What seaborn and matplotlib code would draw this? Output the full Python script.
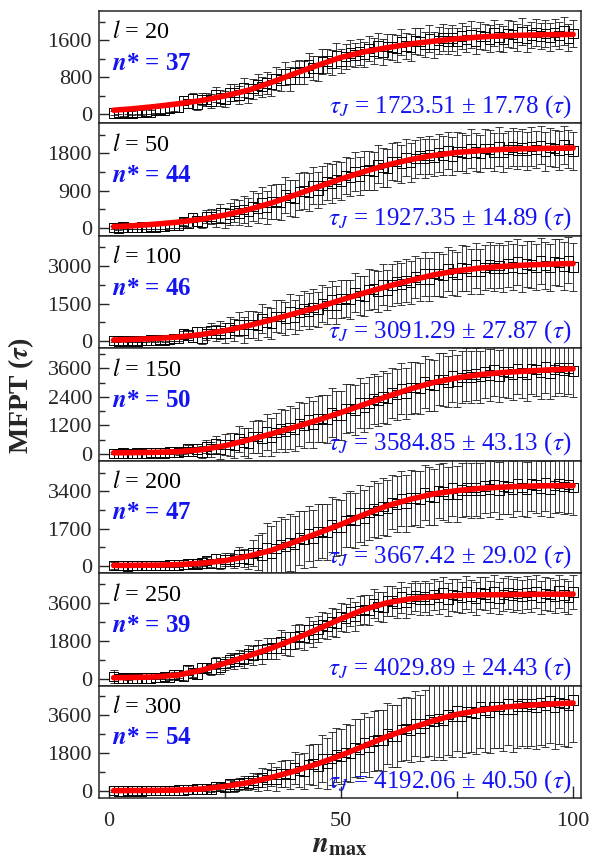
import numpy as np
import pandas as pd
import seaborn as sns
import matplotlib.pyplot as plt
from matplotlib.ticker import MultipleLocator

sns.set_theme(style='ticks')
plt.rcParams['font.family'] = ['Liberation Serif', 'DejaVu Serif']
plt.rcParams['mathtext.fontset'] = 'stix'

# chain lengths and fit results shown in each panel
lengths = [20, 50, 100, 150, 200, 250, 300]
n_star = [37, 44, 46, 50, 47, 39, 54]
tau_j = ['1723.51', '1927.35', '3091.29', '3584.85', '3667.42', '4029.89', '4192.06']
tau_err = ['17.78', '14.89', '27.87', '43.13', '29.02', '24.43', '40.50']

# n_max grid of the simulation points
n_max = np.arange(1, 101)

# MFPT means read from the squares
mfpt_20 = [30, 45, 20, 40, 30, 55, 40, 65, 55, 80,
           100, 95, 130, 150, 145, 294, 233, 347, 211, 325,
           320, 290, 435, 355, 325, 474, 473, 422, 571, 445,
           554, 638, 597, 681, 640, 778, 741, 879, 767, 905,
           916, 902, 1063, 999, 985, 1144, 1153, 1112, 1271, 1155,
           1254, 1328, 1277, 1351, 1300, 1418, 1361, 1479, 1347, 1465,
           1456, 1422, 1563, 1479, 1445, 1582, 1569, 1506, 1643, 1505,
           1590, 1650, 1585, 1645, 1580, 1688, 1621, 1729, 1587, 1695,
           1675, 1630, 1760, 1665, 1620, 1748, 1726, 1654, 1782, 1635,
           1712, 1764, 1691, 1743, 1670, 1771, 1697, 1798, 1649, 1750]
mfpt_50 = [10, 0, 20, 5, 15, 10, 25, 15, 30, 25,
           40, 35, 55, 60, 70, 154, 118, 257, 171, 135,
           280, 275, 220, 365, 235, 336, 412, 363, 439, 390,
           522, 479, 611, 493, 625, 638, 626, 789, 727, 715,
           880, 895, 860, 1025, 915, 1028, 1116, 1079, 1167, 1130,
           1266, 1227, 1363, 1249, 1385, 1392, 1374, 1531, 1463, 1445,
           1596, 1597, 1548, 1699, 1575, 1670, 1740, 1685, 1755, 1700,
           1814, 1753, 1867, 1731, 1845, 1829, 1788, 1922, 1831, 1790,
           1921, 1902, 1833, 1964, 1820, 1898, 1951, 1879, 1932, 1860,
           1962, 1889, 1991, 1843, 1945, 1921, 1873, 1999, 1901, 1852]
mfpt_100 = [20, 10, 35, 0, 25, 15, 35, 20, 45, 30,
            60, 50, 80, 100, 110, 280, 255, 140, 385, 135,
            300, 420, 315, 435, 330, 550, 455, 675, 445, 665,
            666, 622, 893, 759, 715, 990, 995, 910, 1185, 965,
            1150, 1290, 1205, 1345, 1260, 1498, 1421, 1659, 1447, 1685,
            1696, 1662, 1943, 1819, 1785, 2062, 2069, 1986, 2263, 2045,
            2228, 2366, 2279, 2417, 2330, 2554, 2463, 2687, 2461, 2685,
            2672, 2614, 2871, 2723, 2665, 2912, 2889, 2776, 3023, 2775,
            2924, 3028, 2907, 3011, 2890, 3080, 2955, 3145, 2885, 3075,
            3037, 2954, 3186, 3013, 2930, 3160, 3120, 2990, 3220, 2955]
mfpt_150 = [20, 10, 35, 15, 20, 35, 20, 25, 45, 30,
            55, 40, 65, 75, 60, 106, 212, 93, 199, 80,
            294, 193, 407, 171, 385, 388, 346, 619, 487, 445,
            722, 729, 646, 923, 705, 896, 1042, 963, 1109, 1030,
            1270, 1195, 1435, 1225, 1465, 1484, 1458, 1747, 1631, 1605,
            1898, 1921, 1854, 2147, 1945, 2148, 2306, 2239, 2397, 2330,
            2574, 2503, 2747, 2541, 2785, 2794, 2758, 3037, 2911, 2875,
            3138, 3131, 3034, 3297, 3065, 3228, 3346, 3239, 3357, 3250,
            3448, 3331, 3529, 3277, 3475, 3442, 3364, 3601, 3433, 3355,
            3590, 3555, 3430, 3665, 3405, 3549, 3648, 3522, 3621, 3495]
mfpt_200 = [40, 20, 30, 10, 20, 30, 15, 25, 30, 20,
            40, 35, 50, 60, 55, 80, 95, 110, 100, 140,
            254, 128, 352, 120, 300, 290, 230, 520, 360, 300,
            604, 608, 512, 816, 570, 796, 972, 898, 1074, 1000,
            1280, 1210, 1490, 1270, 1550, 1580, 1560, 1890, 1770, 1750,
            2090, 2130, 2070, 2410, 2200, 2430, 2610, 2540, 2720, 2650,
            2910, 2820, 3080, 2840, 3100, 3098, 3046, 3344, 3192, 3140,
            3420, 3400, 3280, 3560, 3290, 3460, 3580, 3450, 3570, 3440,
            3652, 3514, 3726, 3438, 3650, 3608, 3516, 3774, 3582, 3490,
            3744, 3698, 3552, 3806, 3510, 3661, 3763, 3614, 3716, 3567]
mfpt_250 = [100, 10, 25, 0, 20, 10, 25, 30, 20, 45,
            60, 90, 60, 202, 170, 116, 412, 258, 204, 500,
            516, 432, 748, 514, 730, 900, 820, 990, 910, 1180,
            1104, 1378, 1152, 1426, 1450, 1436, 1772, 1658, 1644, 1980,
            2026, 1972, 2318, 2114, 2360, 2558, 2506, 2704, 2652, 2950,
            2890, 3180, 2970, 3260, 3300, 3264, 3578, 3442, 3406, 3720,
            3708, 3596, 3884, 3622, 3810, 3930, 3800, 3920, 3790, 4010,
            3870, 4080, 3790, 4000, 3960, 3866, 4122, 3928, 3834, 4090,
            4043, 3896, 4149, 3852, 4005, 4107, 3959, 4061, 3913, 4115,
            3966, 4167, 3869, 4070, 4022, 3924, 4175, 3977, 3878, 4130]
mfpt_300 = [20, 10, 0, 15, 5, 20, 10, 25, 15, 20,
            30, 25, 40, 35, 50, 55, 70, 65, 90, 95,
            99, 73, 222, 221, 170, 331, 217, 328, 414, 375,
            500, 400, 650, 550, 800, 560, 820, 830, 790, 1100,
            970, 940, 1260, 1280, 1200, 1530, 1310, 1540, 1720, 1650,
            1840, 1780, 2070, 2010, 2300, 2090, 2380, 2420, 2410, 2750,
            2630, 2610, 2940, 2970, 2900, 3220, 2990, 3210, 3380, 3300,
            3460, 3370, 3630, 3540, 3800, 3540, 3780, 3770, 3710, 4000,
            3828, 3756, 4034, 4012, 3890, 4158, 3876, 4044, 4162, 4030,
            4142, 4004, 4216, 4078, 4290, 4000, 4211, 4171, 4082, 4342]

# error bar half-lengths
err_20 = [50, 40, 45, 40, 45, 50, 45, 55, 50, 60,
          60, 65, 70, 80, 85, 95, 100, 110, 120, 130,
          140, 150, 160, 165, 175, 185, 190, 200, 205, 210,
          215, 225, 220, 235, 240, 245, 240, 250, 255, 250,
          260, 255, 265, 260, 270, 265, 260, 270, 275, 265,
          270, 275, 265, 280, 270, 275, 280, 270, 285, 275,
          280, 285, 275, 280, 290, 280, 285, 275, 290, 280,
          285, 290, 280, 285, 290, 285, 280, 290, 285, 290,
          280, 290, 285, 295, 280, 290, 285, 295, 290, 285,
          290, 295, 285, 290, 295, 290, 285, 295, 290, 295]
err_50 = [40, 40, 45, 40, 45, 45, 50, 45, 50, 55,
          55, 60, 65, 70, 75, 85, 95, 110, 125, 140,
          160, 180, 200, 220, 240, 260, 280, 300, 320, 340,
          360, 370, 380, 400, 410, 420, 430, 430, 440, 450,
          440, 450, 460, 450, 440, 460, 450, 470, 450, 460,
          450, 460, 470, 450, 460, 470, 450, 460, 470, 460,
          450, 470, 460, 450, 470, 460, 450, 470, 460, 450,
          460, 470, 450, 460, 470, 450, 460, 470, 460, 450,
          470, 460, 450, 470, 460, 450, 460, 470, 450, 460,
          470, 450, 460, 470, 460, 450, 470, 460, 450, 460]
err_100 = [40, 40, 45, 45, 45, 50, 50, 55, 55, 60,
           65, 70, 80, 90, 100, 120, 140, 170, 200, 230,
           260, 290, 320, 350, 380, 410, 440, 470, 500, 520,
           540, 560, 580, 600, 620, 640, 650, 660, 680, 690,
           700, 690, 710, 720, 700, 730, 740, 720, 750, 760,
           740, 770, 780, 760, 790, 800, 780, 810, 820, 800,
           830, 840, 820, 850, 850, 830, 860, 870, 850, 880,
           880, 860, 890, 890, 870, 900, 900, 880, 900, 910,
           890, 910, 910, 890, 920, 920, 900, 920, 930, 910,
           930, 930, 910, 930, 940, 920, 940, 940, 920, 940]
err_150 = [40, 40, 45, 45, 50, 50, 50, 55, 60, 60,
           65, 70, 80, 90, 100, 120, 140, 170, 200, 240,
           280, 320, 360, 400, 440, 480, 520, 560, 600, 640,
           670, 700, 730, 760, 790, 820, 850, 870, 890, 910,
           930, 950, 960, 980, 990, 1000, 1010, 1020, 1030, 1040,
           1040, 1020, 1050, 1060, 1040, 1070, 1070, 1050, 1080, 1080,
           1060, 1080, 1090, 1070, 1090, 1090, 1070, 1100, 1100, 1080,
           1100, 1100, 1080, 1100, 1110, 1090, 1100, 1110, 1090, 1100,
           1110, 1090, 1100, 1110, 1090, 1100, 1110, 1090, 1100, 1110,
           1090, 1100, 1110, 1090, 1100, 1110, 1090, 1100, 1110, 1100]
err_200 = [150, 60, 50, 60, 50, 55, 60, 55, 60, 65,
           70, 70, 75, 80, 85, 90, 100, 110, 120, 140,
           160, 190, 220, 250, 280, 300, 330, 360, 400, 450,
           600, 800, 1000, 1150, 1250, 1250, 1280, 1250, 1300, 1260,
           1240, 1280, 1250, 1300, 1260, 1230, 1280, 1250, 1300, 1260,
           1240, 1280, 1250, 1300, 1260, 1230, 1280, 1250, 1300, 1260,
           1240, 1280, 1250, 1300, 1260, 1230, 1280, 1250, 1300, 1260,
           1240, 1280, 1250, 1300, 1260, 1230, 1280, 1250, 1300, 1260,
           1240, 1280, 1250, 1300, 1260, 1230, 1280, 1250, 1300, 1260,
           1240, 1280, 1250, 1300, 1260, 1230, 1280, 1250, 1300, 1260]
err_250 = [300, 40, 45, 50, 45, 50, 55, 50, 55, 60,
           70, 90, 110, 130, 150, 170, 180, 200, 210, 220,
           240, 260, 280, 300, 320, 340, 360, 380, 400, 420,
           440, 460, 470, 490, 500, 520, 530, 550, 560, 580,
           590, 600, 610, 620, 620, 630, 640, 650, 660, 670,
           670, 680, 690, 690, 700, 700, 710, 710, 720, 720,
           730, 720, 740, 730, 750, 730, 760, 740, 770, 750,
           780, 750, 790, 760, 780, 760, 790, 770, 780, 770,
           790, 770, 800, 770, 790, 780, 800, 770, 790, 780,
           800, 780, 790, 780, 800, 780, 790, 780, 800, 790]
err_300 = [50, 50, 45, 50, 45, 50, 50, 55, 50, 55,
           55, 60, 60, 65, 65, 70, 70, 75, 80, 85,
           90, 110, 130, 150, 180, 210, 240, 270, 300, 340,
           380, 420, 460, 500, 540, 580, 620, 660, 700, 750,
           800, 860, 920, 980, 1050, 1120, 1200, 1260, 1300, 1320,
           1340, 1360, 1380, 1400, 1410, 1420, 1430, 1440, 1450, 1460,
           1470, 1480, 1490, 1500, 1520, 1540, 1560, 1600, 1700, 1800,
           1850, 1880, 1900, 1920, 1900, 1930, 1950, 1920, 1960, 1940,
           1970, 1950, 1980, 1960, 1990, 1970, 2000, 1980, 2000, 1990,
           2000, 1990, 2010, 1990, 2000, 2010, 1990, 2010, 2000, 2010]

# fitted curves (red) sampled at these n_max values
fit_n = [1, 5, 10, 15, 20, 25, 30, 35, 40, 45, 50,
         55, 60, 65, 70, 75, 80, 85, 90, 95, 100]
fit_20 = [90, 120, 170, 230, 300, 400, 520, 690, 880, 1060, 1230,
          1350, 1440, 1520, 1580, 1630, 1670, 1695, 1710, 1720, 1725]
fit_50 = [30, 50, 90, 140, 210, 310, 440, 600, 790, 990, 1180,
          1360, 1520, 1650, 1750, 1820, 1865, 1895, 1910, 1920, 1927]
fit_100 = [50, 70, 110, 170, 270, 420, 620, 850, 1100, 1350, 1640,
           1920, 2180, 2420, 2640, 2800, 2910, 2980, 3030, 3065, 3090]
fit_150 = [40, 45, 60, 90, 170, 340, 580, 840, 1120, 1420, 1740,
           2080, 2420, 2740, 3010, 3200, 3340, 3430, 3490, 3540, 3585]
fit_200 = [30, 35, 45, 70, 130, 250, 450, 720, 1100, 1500, 1900,
           2350, 2750, 3050, 3290, 3440, 3540, 3600, 3640, 3660, 3667]
fit_250 = [40, 50, 80, 170, 400, 730, 1080, 1450, 1880, 2360, 2850,
           3300, 3620, 3810, 3910, 3960, 3990, 4005, 4015, 4022, 4030]
fit_300 = [20, 25, 30, 50, 100, 220, 400, 650, 950, 1300, 1700,
           2150, 2600, 3000, 3350, 3650, 3850, 3990, 4080, 4140, 4192]

means = [mfpt_20, mfpt_50, mfpt_100, mfpt_150, mfpt_200, mfpt_250, mfpt_300]
errors = [err_20, err_50, err_100, err_150, err_200, err_250, err_300]
fits = [fit_20, fit_50, fit_100, fit_150, fit_200, fit_250, fit_300]

# axis settings per panel
y_lims = [(-195, 2230), (-192, 2520), (-280, 4190), (-294, 4450),
          (-320, 4800), (-335, 5030), (-330, 5020)]
y_steps = [800, 900, 1500, 1200, 1700, 1800, 1800]

blue = '#1414f0'

fig, axes = plt.subplots(7, 1, sharex=True, figsize=(5.89, 8.61), dpi=100)
fig.subplots_adjust(left=99 / 589, right=581 / 589, top=1 - 11 / 861,
                    bottom=1 - 798 / 861, hspace=0)

for i, ax in enumerate(axes):
    pts = pd.DataFrame({'n': n_max, 'mfpt': means[i], 'err': errors[i]})
    fit = pd.DataFrame({'n': fit_n, 'mfpt': fits[i]})

    ax.errorbar(pts['n'], pts['mfpt'], yerr=pts['err'], fmt='none',
                ecolor='#1a1a1a', elinewidth=0.6, capsize=3, capthick=0.6, zorder=1)
    sns.scatterplot(data=pts, x='n', y='mfpt', ax=ax, marker='s', s=46,
                    facecolor='none', edgecolor='black', linewidth=0.7, zorder=2)
    sns.lineplot(data=fit, x='n', y='mfpt', ax=ax, color='red', lw=4, zorder=3)

    ax.set_xlim(-2.15, 101.7)
    ax.set_ylim(*y_lims[i])
    ax.yaxis.set_major_locator(MultipleLocator(y_steps[i]))
    ax.yaxis.set_minor_locator(MultipleLocator(y_steps[i] / 2))
    ax.tick_params(axis='y', which='major', direction='in', length=7, width=1,
                   labelsize=16, pad=5, right=False)
    ax.tick_params(axis='y', which='minor', direction='in', length=4, width=1, right=False)
    ax.set_xlabel('')
    ax.set_ylabel('')
    for sp in ax.spines.values():
        sp.set_linewidth(1.1)
        sp.set_visible(True)

    ax.text(0.028, 0.81, r'$l$ = %d' % lengths[i], transform=ax.transAxes,
            fontsize=17.5, va='center', ha='left', color='black')
    ax.text(0.028, 0.535, r'$\mathbfit{n}$* = %d' % n_star[i], transform=ax.transAxes,
            fontsize=18, fontweight='bold', va='center', ha='left', color=blue)
    ax.text(0.981, 0.15, r'$\tau_J$ = %s ± %s ($\tau$)' % (tau_j[i], tau_err[i]),
            transform=ax.transAxes, fontsize=18, va='center', ha='right', color=blue)

    if i < 6:
        ax.tick_params(axis='x', which='both', bottom=False, top=False)

bottom_ax = axes[-1]
bottom_ax.xaxis.set_major_locator(MultipleLocator(50))
bottom_ax.xaxis.set_minor_locator(MultipleLocator(25))
bottom_ax.tick_params(axis='x', which='major', direction='in', length=9, width=1,
                      labelsize=16, pad=10, top=False)
bottom_ax.tick_params(axis='x', which='minor', direction='in', length=5, width=1, top=False)
bottom_ax.set_xlabel(r'$\mathbfit{n}_{\mathbf{max}}$', fontsize=21, labelpad=1)

fig.text(0.036, 0.54, r'MFPT ($\mathbfit{\tau}$)', rotation=90, fontsize=20,
         fontweight='bold', ha='center', va='center')

fig.savefig('out.png', dpi=100)
